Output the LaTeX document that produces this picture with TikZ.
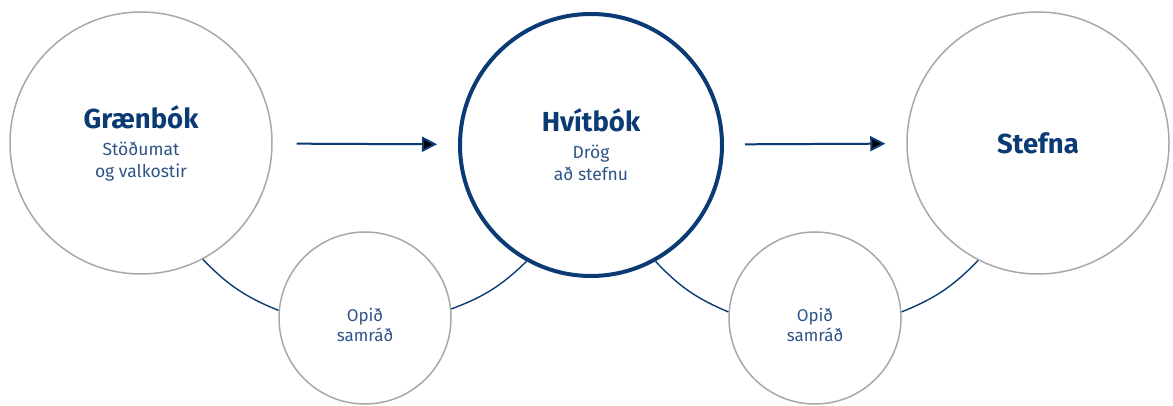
\documentclass[tikz,border=0pt]{standalone}
\usepackage{fontspec}
\setmainfont{Fira Sans}
\usetikzlibrary{arrows.meta,positioning}
\definecolor{navy}{HTML}{0B3B74}
\definecolor{navysoft}{HTML}{2E5488}
\definecolor{ringgray}{HTML}{A8A8A8}
\newcommand\phasetitle[1]{{\fontsize{27.5}{29}\selectfont\bfseries\color{navy}#1}}
\tikzset{
  phase/.style={circle,draw=ringgray,line width=1.5pt,fill=white,minimum size=262pt,inner sep=0pt,
    align=center,text=navysoft,font=\fontsize{17.5}{22}\selectfont},
  phasekey/.style={phase,draw=navy,line width=4pt},
  consult/.style={phase,minimum size=172pt,font=\fontsize{17}{20}\selectfont},
  link/.style={draw=navy,line width=1.4pt},
}

\begin{document}
\begin{tikzpicture}[x=1pt,y=1pt]
\useasboundingbox (0,0) rectangle (1173,406);
\node[phase] (graen) at (141,263) {\phasetitle{Grænbók}\\[5pt]Stöðumat\\og valkostir};
\node[phasekey] (hvit) at (591,261) {\phasetitle{Hvítbók}\\[5pt]Drög\\að stefnu};
\node[phase] (stefna) at (1038,263) {\phasetitle{Stefna}};
\node[consult] (opid1) at (365,88) {\rule{0pt}{27pt}Opið\\samráð};
\node[consult] (opid2) at (815,88) {\rule{0pt}{27pt}Opið\\samráð};
\path[->,>={Triangle[length=15pt,width=15pt]},draw=navy,line width=2pt]
(graen) edge[shorten <=24pt,shorten >=21pt] (hvit)
(hvit) edge[shorten <=21pt,shorten >=21pt] (stefna);
\path[link]
(graen.-62) edge[bend right=12] (opid1.175)
(opid1.6) edge[bend right=12] (hvit.-119)
(hvit.-61) edge[bend right=12] (opid2.176)
(opid2.4) edge[bend right=12] (stefna.-117);
\end{tikzpicture}
\end{document}
